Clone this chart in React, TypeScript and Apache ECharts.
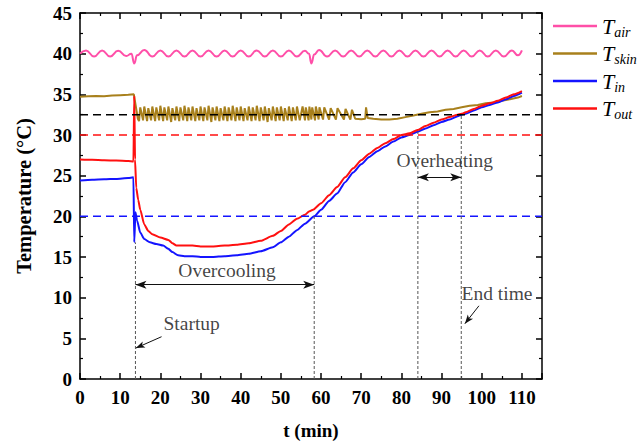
import React, { useEffect, useRef } from "react";
import * as echarts from "echarts";

// ---------- data ----------
const airData: [number, number][] = [
  [0, 40.0], [1.5, 40.4], [3.5, 39.65], [5.5, 40.4], [7.5, 39.65], [9.5, 40.35], [11.5, 39.7],
  [12.8, 40.0], [13.5, 38.8], [14.2, 39.8], [16.0, 40.45], [18.0, 39.65], [20.0, 40.4], [22.0, 39.65],
  [24.0, 40.4], [26.0, 39.65], [28.0, 40.4], [30.0, 39.65], [32.0, 40.4], [34.0, 39.65], [36.0, 40.4],
  [38.0, 39.65], [40.0, 40.4], [42.0, 39.65], [44.0, 40.4], [46.0, 39.65], [48.0, 40.4], [50.0, 39.65],
  [52.0, 40.4], [54.0, 39.65], [56.0, 40.35], [57.0, 40.0], [57.6, 38.8], [58.3, 39.9], [59.5, 40.45],
  [61.5, 39.65], [63.5, 40.4], [65.5, 39.65], [67.5, 40.4], [69.5, 39.65], [71.5, 40.4], [73.5, 39.65],
  [75.5, 40.4], [77.5, 39.65], [79.5, 40.4], [81.5, 39.65], [83.5, 40.4], [85.5, 39.65], [87.5, 40.4],
  [89.5, 39.65], [91.5, 40.4], [93.5, 39.65], [95.5, 40.4], [97.5, 39.65], [99.5, 40.4], [101.5, 39.65],
  [103.5, 40.4], [105.5, 39.65], [107.5, 40.4], [109.0, 39.8], [110.0, 40.4],
];

const skinData: [number, number][] = [
  [0, 34.7], [2, 34.75], [4, 34.8], [6, 34.75], [8, 34.85], [10, 34.9], [12, 34.95], [13.4, 35.0],
  [14.4, 32.0], [14.7, 31.7],
  [15.0, 33.4], [15.7, 31.8], [16.0, 33.5], [16.7, 31.7], [17.0, 33.3], [17.7, 31.8], [18.0, 33.5], [18.7, 31.7],
  [19.0, 33.4], [19.7, 31.8], [20.0, 33.6], [20.7, 31.7], [21.0, 33.4], [21.7, 31.8], [22.0, 33.5], [22.7, 31.6],
  [23.0, 33.3], [23.7, 31.8], [24.0, 33.5], [24.7, 31.7], [25.0, 33.4], [25.7, 31.8], [26.0, 33.6], [26.7, 31.7],
  [27.0, 33.4], [27.7, 31.8], [28.0, 33.5], [28.7, 31.7], [29.0, 33.3], [29.7, 31.8], [30.0, 33.5], [30.7, 31.7],
  [31.0, 33.4], [31.7, 31.8], [32.0, 33.6], [32.7, 31.6], [33.0, 33.4], [33.7, 31.8], [34.0, 33.5], [34.7, 31.7],
  [35.0, 33.3], [35.7, 31.8], [36.0, 33.5], [36.7, 31.7], [37.0, 33.4], [37.7, 31.8], [38.0, 33.6], [38.7, 31.7],
  [39.0, 33.4], [39.7, 31.8], [40.0, 33.5], [40.7, 31.7], [41.0, 33.3], [41.7, 31.8], [42.0, 33.5], [42.7, 31.7],
  [43.0, 33.4], [43.7, 31.8], [44.0, 33.6], [44.7, 31.7], [45.0, 33.4], [45.7, 31.8], [46.0, 33.5], [46.7, 31.6],
  [47.0, 33.3], [47.7, 31.8], [48.0, 33.5], [48.7, 31.7], [49.0, 33.4], [49.7, 31.8], [50.0, 33.5], [50.7, 31.7],
  [51.0, 33.3], [51.7, 31.8], [52.0, 33.5], [52.7, 31.7], [53.0, 33.4], [53.7, 31.8], [54.0, 33.5], [54.7, 31.8],
  [55.4, 33.5], [56.0, 31.8], [56.2, 33.4], [56.9, 31.8], [57.1, 33.5], [57.6, 31.9], [57.8, 33.4], [58.5, 31.8],
  [58.7, 33.5], [59.4, 31.9], [59.6, 33.4], [60.5, 31.9], [60.8, 33.4], [62.0, 31.9], [62.4, 33.3], [63.7, 31.9],
  [64.1, 33.3], [65.7, 31.9], [66.1, 33.2], [67.3, 31.9], [67.7, 33.1], [68.5, 32.0], [70, 31.95], [71.0, 32.0],
  [71.2, 33.4], [71.6, 32.1], [73, 32.0], [75, 31.9], [77, 31.9], [79, 32.0], [81, 32.2], [83, 32.4], [85, 32.6],
  [87, 32.8], [89, 32.9], [91, 33.1], [93, 33.2], [95, 33.4], [97, 33.6], [99, 33.7], [101, 33.9], [103, 34.0],
  [105, 34.2], [107, 34.4], [109, 34.6], [110, 34.8],
];

const inData: [number, number][] = [
  [0, 24.4], [3, 24.5], [6, 24.55], [9, 24.6], [12, 24.7], [13.3, 24.8], [13.5, 16.8], [13.8, 20.5],
  [14.2, 19.5], [15, 18.0], [16, 17.2], [17.4, 16.8], [19, 16.6], [20.7, 16.4], [22, 16.0], [23, 15.6],
  [24.4, 15.2], [26, 15.1], [28, 15.1], [30, 15.0], [33, 15.0], [36, 15.1], [39, 15.2], [42, 15.4],
  [45, 15.7], [48, 16.2], [50, 16.8], [52, 17.5], [54, 18.3], [56, 19.1], [58.3, 20.0], [60, 20.8],
  [62, 21.9], [64, 22.8], [66, 24.2], [68, 25.4], [70, 26.4], [72, 27.3], [74, 28.0], [76, 28.6],
  [78, 29.2], [80, 29.7], [82, 30.0], [84, 30.4], [86, 30.8], [88, 31.2], [90, 31.6], [92, 31.9],
  [94, 32.3], [95, 32.5], [96, 32.6], [98, 33.0], [100, 33.4], [102, 33.7], [104, 34.0], [106, 34.4],
  [108, 34.8], [110, 35.2],
];

const outData: [number, number][] = [
  [0, 27.0], [3, 26.95], [6, 26.9], [9, 26.85], [12, 26.8], [13.3, 26.75], [13.5, 34.8], [13.7, 27.0],
  [14.0, 23.5], [14.5, 22.0], [15, 20.8], [16, 19.0], [17, 18.2], [18, 17.8], [20, 17.4], [22, 17.1],
  [23, 16.7], [24, 16.4], [26, 16.4], [28, 16.4], [30, 16.3], [33, 16.3], [36, 16.4], [39, 16.5],
  [42, 16.7], [45, 17.0], [48, 17.6], [50, 18.2], [52, 19.0], [54, 19.7], [56, 20.2], [57, 20.6],
  [58, 20.8], [60, 21.6], [62, 22.6], [64, 23.6], [66, 24.8], [68, 25.9], [70, 26.9], [72, 27.7],
  [74, 28.4], [76, 29.0], [78, 29.5], [80, 30.0], [82, 30.2], [84, 30.6], [86, 31.1], [88, 31.5],
  [90, 31.9], [92, 32.2], [94, 32.5], [95, 32.6], [96, 32.8], [98, 33.2], [100, 33.6], [102, 33.9],
  [104, 34.2], [106, 34.6], [108, 35.0], [110, 35.4],
];

// reference levels (°C)
const refLevels = [32.5, 30, 20];
// event times (min) and the temperature each dotted marker reaches
const eventTimes = [13.8, 58.3, 84.1, 94.9];
const eventTops = [16.8, 20.0, 30.4, 32.5];

const seriesNames = ["T_air", "T_skin", "T_in", "T_out"];
const seriesSubs = ["air", "skin", "in", "out"];
const seriesColors = ["#ff4fa8", "#a8801c", "#1414ff", "#ff1010"];

const annotations: { text: string; at: [number, number] }[] = [
  { text: "Overcooling", at: [36.6, 13.4] },
  { text: "Overheating", at: [90.8, 26.9] },
  { text: "Startup", at: [27.8, 6.8] },
  { text: "End time", at: [103.8, 10.5] },
];

const doubleArrows: [[number, number], [number, number]][] = [
  [[13.8, 11.6], [58.3, 11.6]],
  [[84.1, 24.8], [94.9, 24.8]],
];
const singleArrows: [[number, number], [number, number]][] = [
  [[20.3, 5.2], [13.9, 3.8]],
  [[99.3, 9.0], [95.8, 6.8]],
];

const SERIF = "'Liberation Serif', 'Times New Roman', serif";

export default function App() {
  const ref = useRef<HTMLDivElement>(null);
  useEffect(() => {
    if (!ref.current) return;
    const chart = echarts.init(ref.current, undefined, { renderer: "svg" });

    const axisCommon = {
      type: "value" as const,
      axisLine: { show: true, onZero: false, lineStyle: { color: "#000", width: 1.5 } },
      axisTick: { show: true, inside: true, length: 6, lineStyle: { color: "#000", width: 1.5 } },
      minorTick: { show: true, splitNumber: 2, length: 3, lineStyle: { color: "#000", width: 1.2 } },
      splitLine: { show: false },
    };

    const dataSeries = [airData, skinData, inData, outData].map((d, i) => ({
      name: seriesNames[i],
      type: "line",
      data: d,
      showSymbol: false,
      symbol: "none",
      smooth: i === 0 ? 0.5 : i >= 2 ? 0.2 : false,
      smoothMonotone: "x",
      lineStyle: { color: seriesColors[i], width: 2 },
      itemStyle: { color: seriesColors[i] },
      z: 3 + i,
    }));

    const refColors = ["#000", "#ff1010", "#1414ff"];
    const refSeries = refLevels.map((v, i) => ({
      name: "ref" + i,
      type: "line",
      data: [[0, v], [115, v]],
      symbol: "none",
      lineStyle: { color: refColors[i], width: 1.5, type: [8, 5] },
      z: 8,
      silent: true,
    }));

    const eventSeries = eventTimes.map((t, i) => ({
      name: "ev" + i,
      type: "line",
      data: [[t, 0], [t, eventTops[i]]],
      symbol: "none",
      lineStyle: { color: "#555", width: 1, type: [3, 2] },
      z: 8,
      silent: true,
    }));

    const arrowSeries = {
      name: "arrows",
      type: "line",
      data: [],
      silent: true,
      markLine: {
        silent: true,
        animation: false,
        label: { show: false },
        lineStyle: { color: "#111", width: 1, type: "solid" },
        data: [
          ...doubleArrows.map(([a, b]) => [
            { coord: a, symbol: "arrow", symbolSize: [6, 11] },
            { coord: b, symbol: "arrow", symbolSize: [6, 11] },
          ]),
          ...singleArrows.map(([a, b]) => [
            { coord: a, symbol: "none" },
            { coord: b, symbol: "arrow", symbolSize: [5, 9] },
          ]),
        ],
      },
    };

    const textSeries = {
      name: "notes",
      type: "scatter",
      symbolSize: 1,
      itemStyle: { color: "rgba(0,0,0,0)" },
      silent: true,
      z: 10,
      data: annotations.map((a) => ({
        value: a.at,
        label: {
          show: true,
          position: "inside",
          formatter: a.text,
          fontFamily: SERIF,
          fontSize: 19.5,
          color: "#111",
        },
      })),
    };

    chart.setOption({
      animation: false,
      grid: { left: 80, right: 95, top: 13, bottom: 62, containLabel: false },
      legend: {
        data: seriesNames,
        orient: "vertical",
        left: 548,
        top: 10,
        icon: "rect",
        itemWidth: 44,
        itemHeight: 2.5,
        itemGap: 3.5,
        formatter: (name: string) => `{t|T}{s|${seriesSubs[seriesNames.indexOf(name)]}}`,
        textStyle: {
          rich: {
            t: { fontFamily: SERIF, fontStyle: "italic", fontSize: 22, color: "#000", lineHeight: 24 },
            s: { fontFamily: SERIF, fontStyle: "italic", fontSize: 14, color: "#000", padding: [12, 0, 0, 0] },
          },
        },
      },
      xAxis: [
        {
          ...axisCommon,
          position: "bottom",
          min: 0,
          max: 115,
          interval: 10,
          name: "t (min)",
          nameLocation: "middle",
          nameGap: 42,
          nameTextStyle: { fontFamily: SERIF, fontWeight: "bold", fontSize: 19, color: "#000" },
          axisLabel: { showMaxLabel: false, margin: 9, fontFamily: SERIF, fontWeight: "bold", fontSize: 19, color: "#000" },
        },
        {
          ...axisCommon,
          position: "top",
          min: 0,
          max: 115,
          interval: 10,
          axisLabel: { show: false },
        },
      ],
      yAxis: [
        {
          ...axisCommon,
          position: "left",
          min: 0,
          max: 45,
          interval: 5,
          name: "Temperature (°C)",
          nameLocation: "middle",
          nameGap: 46,
          nameTextStyle: { fontFamily: SERIF, fontWeight: "bold", fontSize: 20.5, color: "#000" },
          axisLabel: { margin: 8, fontFamily: SERIF, fontWeight: "bold", fontSize: 19, color: "#000" },
        },
        {
          ...axisCommon,
          position: "right",
          min: 0,
          max: 45,
          interval: 5,
          axisLabel: { show: false },
        },
      ],
      series: [...dataSeries, ...refSeries, ...eventSeries, arrowSeries, textSeries],
    });

    return () => chart.dispose();
  }, []);

  return <div ref={ref} style={{ width: 637, height: 445, position: "absolute", left: 0, top: 0 }} />;
}
